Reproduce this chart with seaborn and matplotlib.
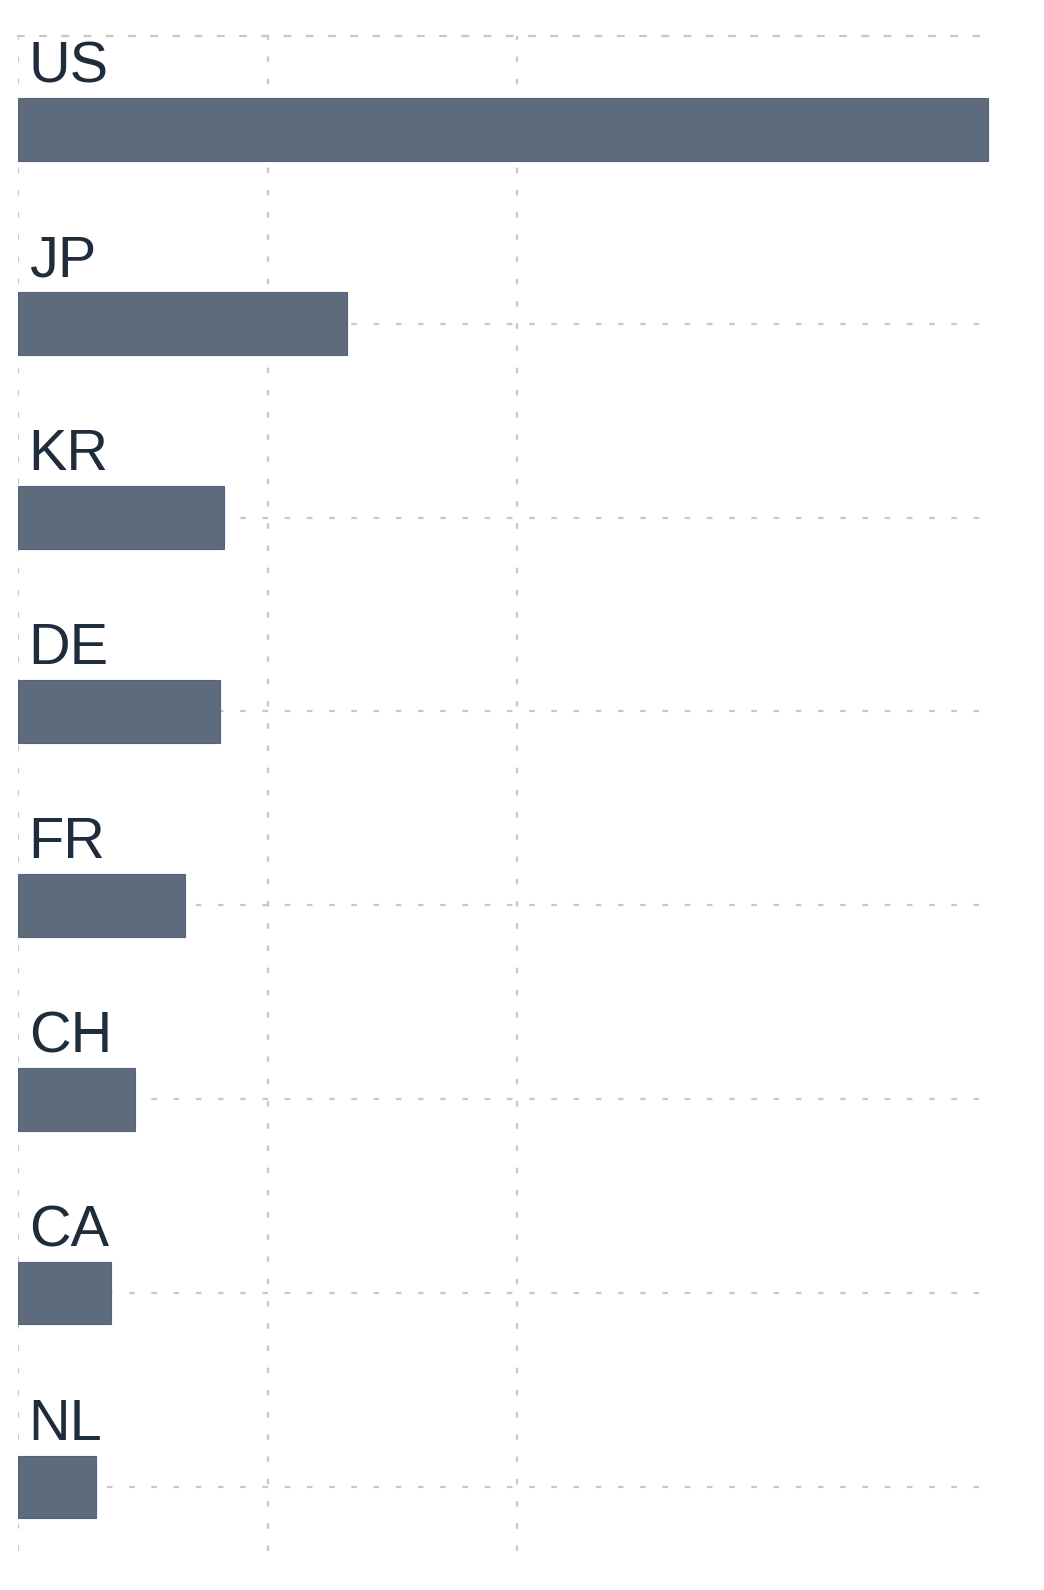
import matplotlib

matplotlib.use("Agg")

import matplotlib.pyplot as plt
import pandas as pd
import seaborn as sns

countries = ["US", "JP", "KR", "DE", "FR", "CH", "CA", "NL"]
values = [38.9, 13.2, 8.25, 8.1, 6.7, 4.68, 3.72, 3.11]
x_ticks = [0, 10, 20]

BAR_COLOR = "#5e6b7d"
TEXT_COLOR = "#1e2c3c"
GRID_COLOR = "#c8c8c8"
DOTS = (0, (2.5, 7.5))


def main() -> None:
    sns.set_theme(style="white")
    plt.rcParams["font.family"] = ["Liberation Sans", "DejaVu Sans"]

    df = pd.DataFrame({"country": countries, "value": values})

    fig = plt.figure(figsize=(10.44, 15.9), dpi=100)
    ax = fig.add_axes([0.0175, 0.0245, 0.934, 0.9528])

    sns.barplot(
        data=df,
        x="value",
        y="country",
        orient="h",
        color=BAR_COLOR,
        saturation=1,
        width=0.323,
        edgecolor="#55627a",
        linewidth=0.8,
        ax=ax,
    )

    # country names sit above their bars
    for i, name in enumerate(countries):
        ax.text(0.42, i - 0.243, name, fontsize=41.5, color=TEXT_COLOR,
                ha="left", va="baseline")

    ax.set_xlim(0, 39.1)
    ax.set_ylim(7.33, -0.483)
    ax.set_xticks(x_ticks)
    ax.set_xticklabels([])
    ax.set_yticklabels([])
    ax.set_xlabel("")
    ax.set_ylabel("")
    ax.tick_params(length=0)

    ax.set_axisbelow(True)
    ax.grid(True, axis="both", color=GRID_COLOR, linewidth=1.6, linestyle=DOTS)

    for side in ["left", "right", "bottom"]:
        ax.spines[side].set_visible(False)
    ax.spines["top"].set_color(GRID_COLOR)
    ax.spines["top"].set_linewidth(1.6)
    ax.spines["top"].set_linestyle(DOTS)

    fig.savefig("out.png", dpi=100)
    plt.close(fig)


if __name__ == "__main__":
    main()
